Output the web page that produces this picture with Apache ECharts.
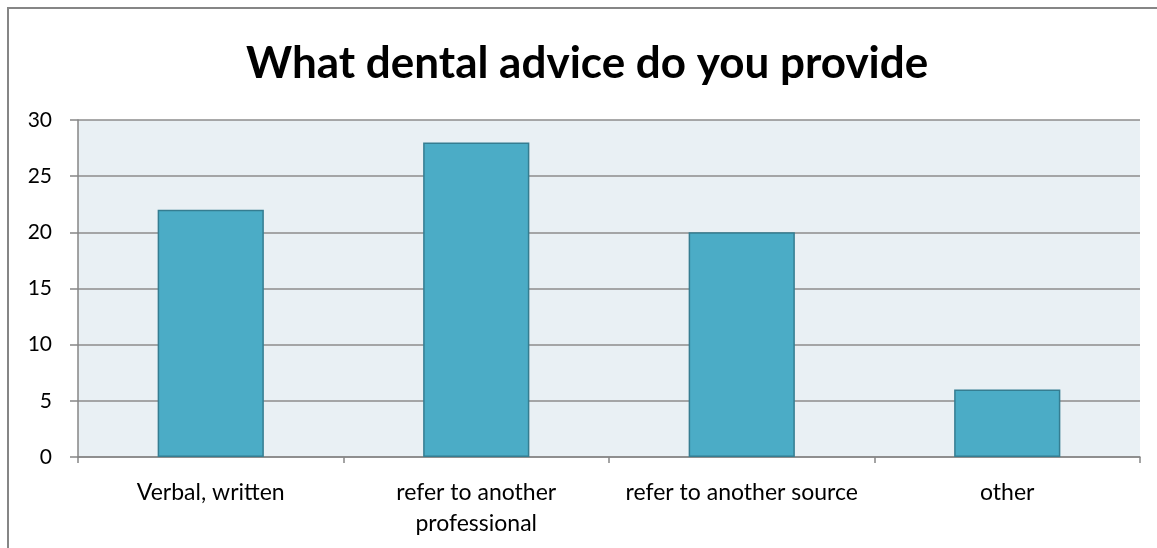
<!DOCTYPE html>
<html>
<head>
<meta charset="utf-8">
<script src="https://cdn.jsdelivr.net/npm/echarts@6/dist/echarts.min.js"></script>
<style>
html,body{margin:0;padding:0;background:#fff;}
#chart{width:1157px;height:548px;}
</style>
</head>
<body>
<div id="chart"></div>
<script>
const titleText = 'What dental advice do you provide';
const categories = ['Verbal, written', 'refer to another\nprofessional', 'refer to another source', 'other'];
const values = [22, 28, 20, 6];
const yTicks = { min: 0, max: 30, interval: 5 };

const chart = echarts.init(document.getElementById('chart'));
chart.setOption({
  animation: false,
  backgroundColor: '#ffffff',
  title: {
    text: titleText,
    left: 246,
    top: 42,
    padding: 0,
    textStyle: { fontFamily: 'Lato', fontWeight: 'bold', fontSize: 44, color: '#000' }
  },
  graphic: [{
    type: 'rect',
    shape: { x: 8, y: 8, width: 1170, height: 570 },
    style: { fill: 'none', stroke: '#868686', lineWidth: 2 },
    silent: true, z: -1
  }],
  grid: { left: 78, right: 17, top: 120, bottom: 91, show: true, backgroundColor: '#E9F0F4', borderWidth: 0 },
  xAxis: {
    type: 'category',
    data: categories,
    axisLine: { show: true, lineStyle: { color: '#868686', width: 1.5 } },
    axisTick: { show: true, alignWithLabel: false, length: 6, lineStyle: { color: '#868686', width: 1.5 } },
    axisLabel: { interval: 0, fontFamily: 'Lato', fontSize: 23, color: '#000', margin: 20, lineHeight: 31 }
  },
  yAxis: {
    type: 'value',
    min: yTicks.min, max: yTicks.max, interval: yTicks.interval,
    axisLine: { show: true, lineStyle: { color: '#868686', width: 1.5 } },
    axisTick: { show: true, length: 8, lineStyle: { color: '#868686', width: 1.5 } },
    splitLine: { show: true, lineStyle: { color: '#8C8C8C', width: 1.5 } },
    axisLabel: { fontFamily: 'Lato', fontSize: 21, color: '#000', margin: 26 }
  },
  series: [{
    type: 'bar',
    data: values,
    barWidth: '40%',
    itemStyle: { color: '#4BACC6', borderColor: '#357D91', borderWidth: 1.5 }
  }]
});
</script>
</body>
</html>
